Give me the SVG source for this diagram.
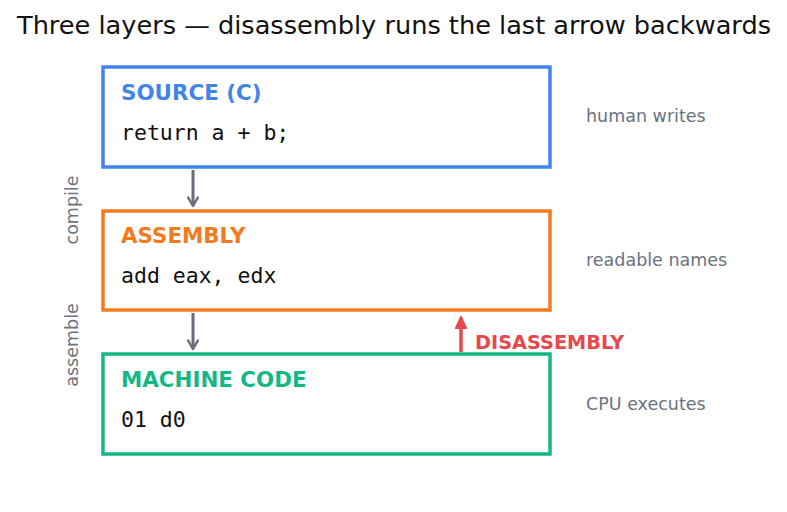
<svg xmlns="http://www.w3.org/2000/svg" width="787" height="512" viewBox="0 0 787 512">
<style>
.box{fill:#fff;stroke-width:3.5}
.head{font-family:"DejaVu Sans",sans-serif;font-weight:bold;font-size:21.4px}
.code{font-family:"DejaVu Sans Mono",monospace;font-size:21.5px;fill:#111}
.side{font-family:"DejaVu Sans",sans-serif;font-size:17.5px;fill:#6b7280}
.flow{stroke:#6b6b7b;stroke-width:3;fill:none}
</style>
<defs>
<marker id="ag" viewBox="0 0 10 10" refX="8" refY="5" markerWidth="4" markerHeight="4" orient="auto" markerUnits="strokeWidth"><path d="M1,1 L8,5 L1,9" fill="none" stroke="#6b6b7b" stroke-width="2" stroke-linecap="round" stroke-linejoin="round"/></marker>
<marker id="ar" viewBox="0 0 10 10" refX="8" refY="5" markerWidth="4.2" markerHeight="4.2" orient="auto" markerUnits="strokeWidth"><path d="M1,1.3 L9,5 L1,8.7 Z" fill="#e5484d" stroke="#e5484d" stroke-width="1" stroke-linejoin="round"/></marker>
</defs>
<rect width="787" height="512" fill="#fff"/>
<text x="17" y="34" font-family="DejaVu Sans,sans-serif" font-size="24" fill="#111" textLength="754" lengthAdjust="spacingAndGlyphs">Three layers — disassembly runs the last arrow backwards</text>
<g id="source">
<rect class="box" x="103" y="67" width="447" height="100" stroke="#4285e8"/>
<text class="head" x="121" y="100" fill="#4285e8">SOURCE (C)</text>
<text class="code" x="121" y="140">return a + b;</text>
<text class="side" x="586" y="122">human writes</text>
</g>
<g id="assembly">
<rect class="box" x="103" y="211" width="447" height="99" stroke="#f47a20"/>
<text class="head" x="121" y="243" fill="#f47a20">ASSEMBLY</text>
<text class="code" x="121" y="283">add eax, edx</text>
<text class="side" x="586" y="266">readable names</text>
</g>
<g id="machine">
<rect class="box" x="103" y="354" width="447" height="100" stroke="#15b885"/>
<text class="head" x="121" y="387" fill="#15b885">MACHINE CODE</text>
<text class="code" x="121" y="427">01 d0</text>
<text class="side" x="586" y="410">CPU executes</text>
</g>
<g id="connectors">
<line class="flow" x1="193" y1="170" x2="193" y2="206" marker-end="url(#ag)"/>
<line class="flow" x1="193" y1="313" x2="193" y2="349" marker-end="url(#ag)"/>
<line x1="461" y1="352" x2="461" y2="318" stroke="#e5484d" stroke-width="3.5" marker-end="url(#ar)"/>
<text x="475" y="349" font-family="DejaVu Sans,sans-serif" font-weight="bold" font-size="19.3" fill="#e5484d">DISASSEMBLY</text>
<text class="side" transform="translate(78,210) rotate(-90)" text-anchor="middle">compile</text>
<text class="side" transform="translate(78,345) rotate(-90)" text-anchor="middle">assemble</text>
</g>
</svg>
